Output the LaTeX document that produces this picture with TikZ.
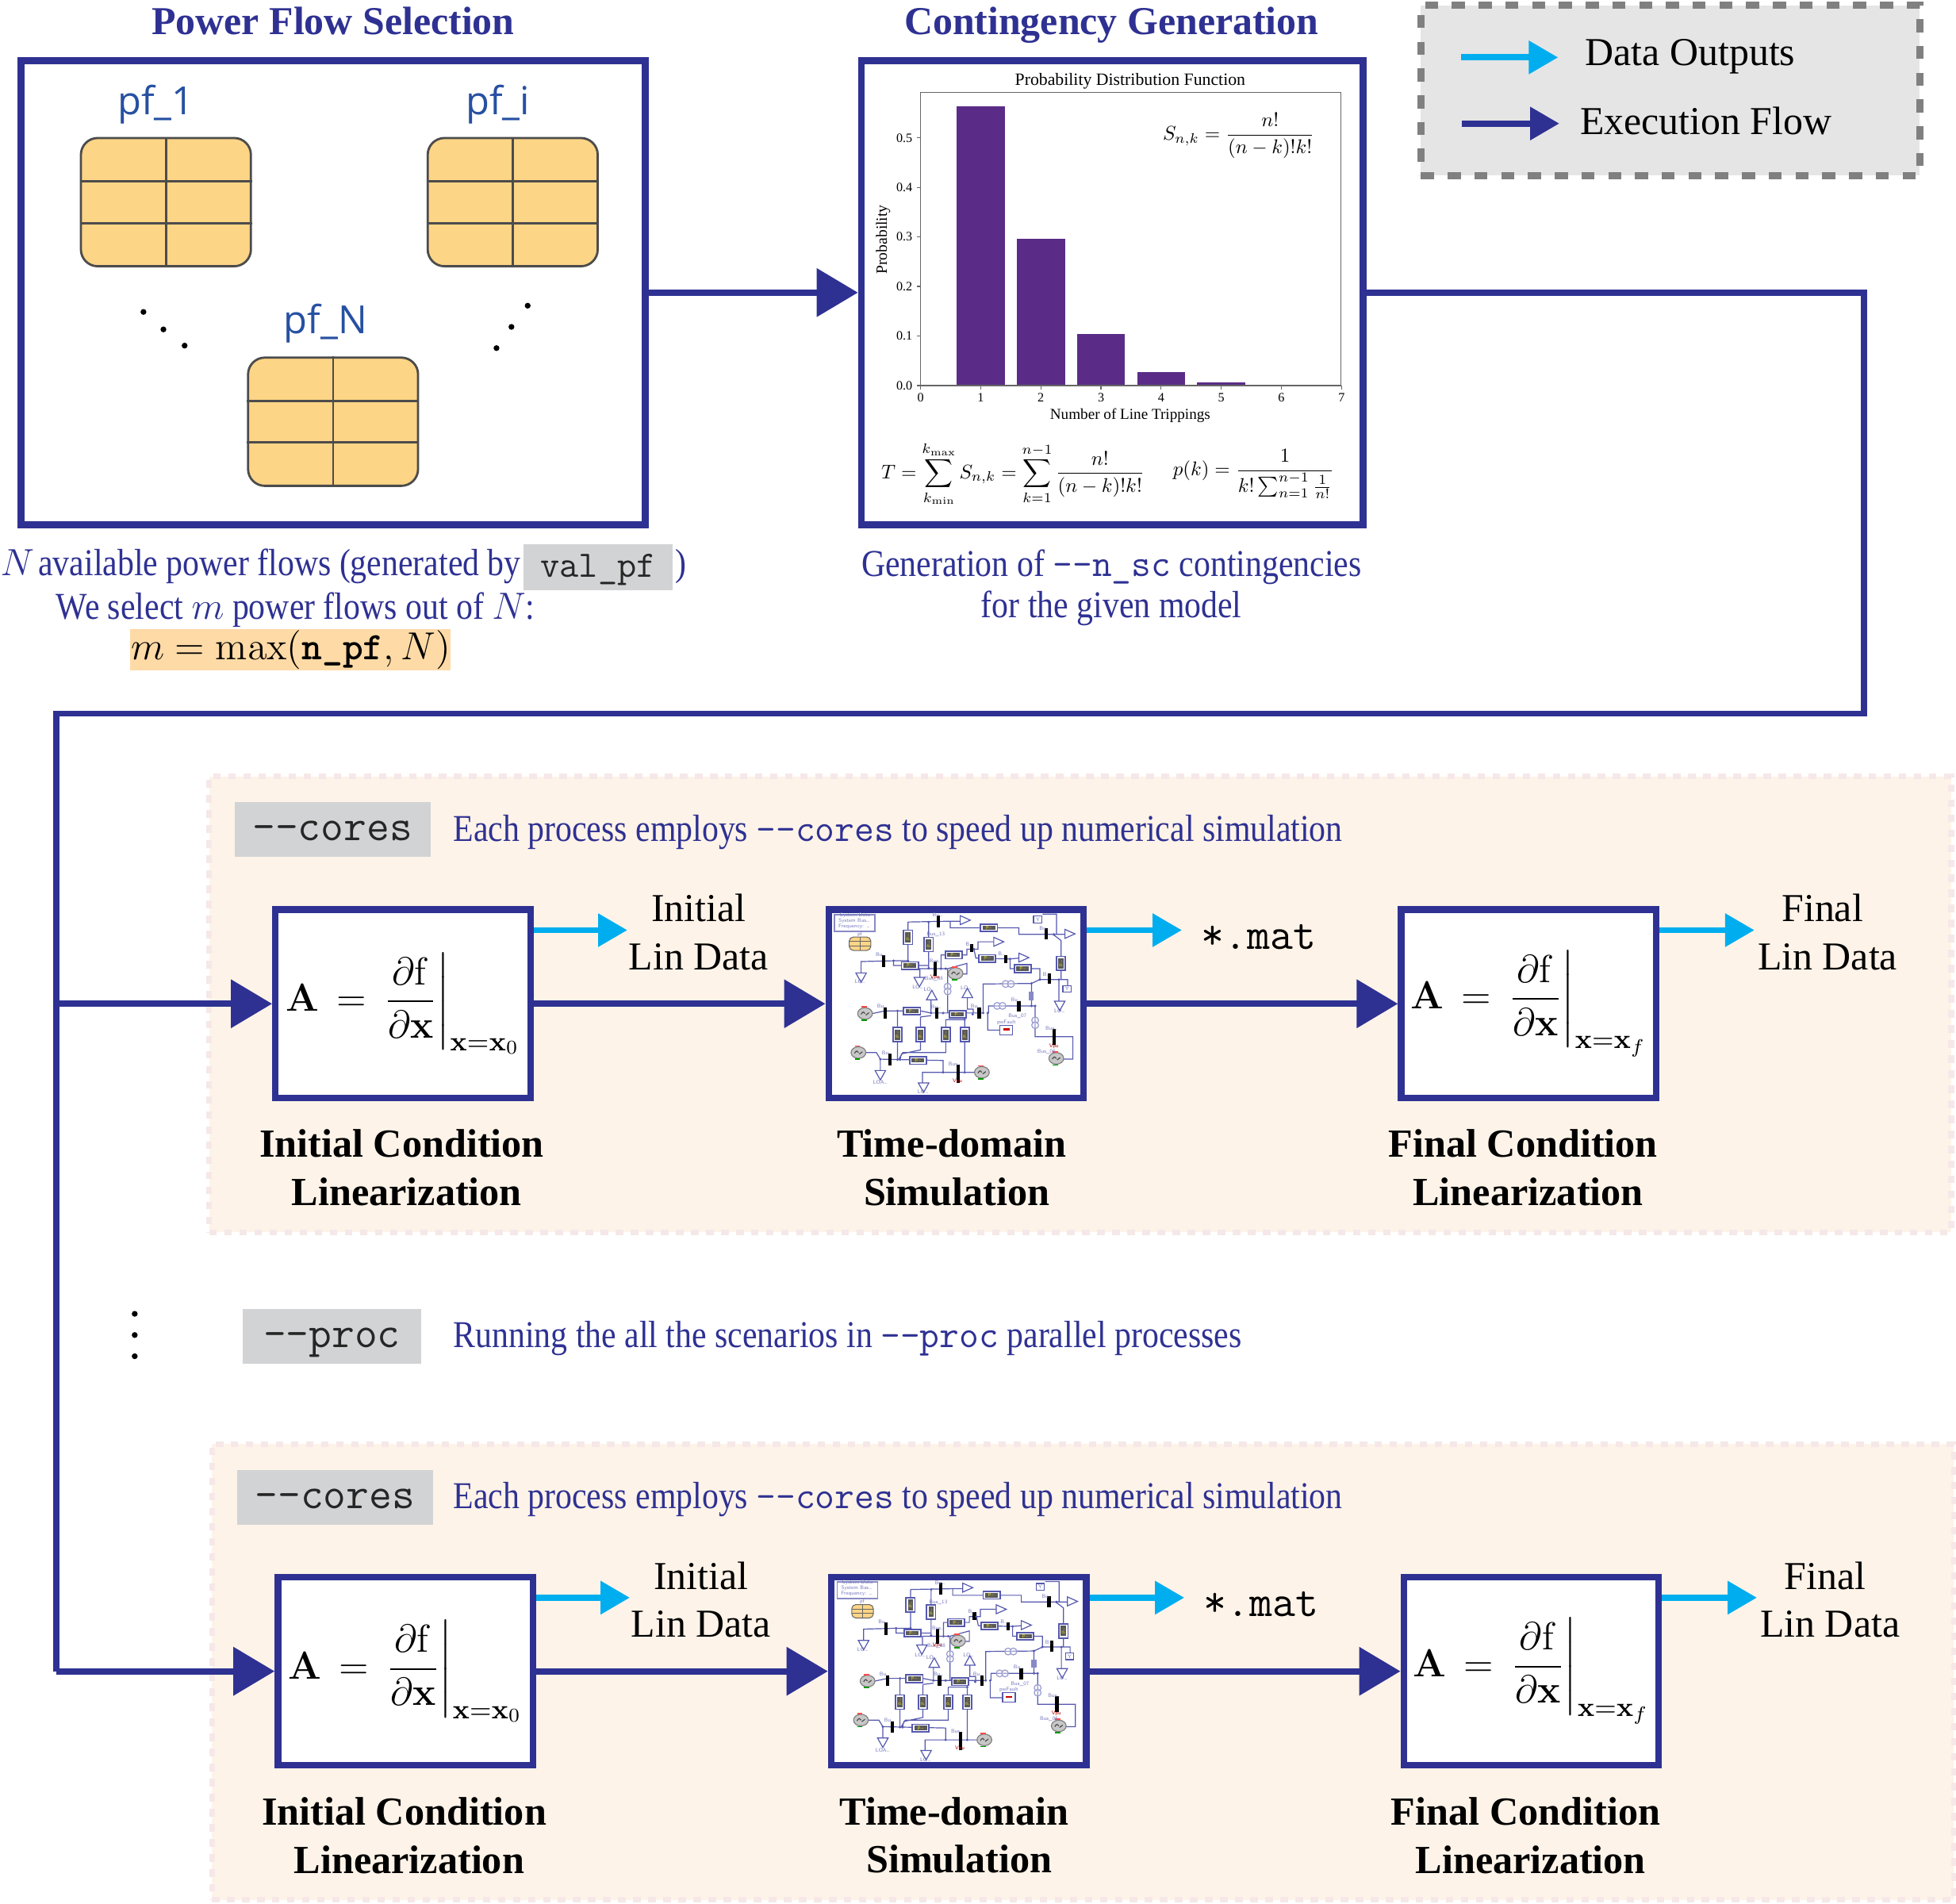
\documentclass[tikz,border=0pt]{standalone}
\usepackage{fix-cm}
\usepackage{amsmath}
\usepackage[no-math]{fontspec}
\usetikzlibrary{arrows.meta,calc,positioning}
\setmainfont{Liberation Serif}
\newfontfamily\squeezed[FakeStretch=.875]{Liberation Serif}
\newfontfamily\pffont{Open Sans}
\definecolor{flowblue}{HTML}{2E3192}
\definecolor{datacyan}{HTML}{00AEEF}
\definecolor{chipfill}{HTML}{FDD586}
\definecolor{bandfill}{HTML}{FEF3E8}
\definecolor{bandedge}{HTML}{F6E8E8}
\definecolor{codegray}{HTML}{D1D3D4}
\definecolor{barpurple}{HTML}{5B2C87}
\definecolor{wire}{HTML}{5558AE}
\newcommand{\fs}[1]{\fontsize{#1}{#1}\selectfont}
\newcommand{\ttsz}[1]{\fontsize{#1}{#1}\selectfont\ttfamily}
\newcommand{\tth}[2]{{\ttsz{#1}#2}}
\tikzset{
	flowbox/.style={draw=flowblue,line width=2.4pt,fill=white,inner sep=0pt},
	execflow/.style={draw=flowblue,line width=2.2pt,-{Triangle[length=14.8pt,width=17pt]}},
	dataflow/.style={draw=datacyan,line width=2.2pt,-{Triangle[length=10.5pt,width=11.5pt]}},
	band/.style={draw=bandedge,fill=bandfill,line width=2pt,dash pattern=on 2.7pt off 2.7pt},
	codechip/.style={fill=codegray,inner sep=0pt,text=black!85,text height=8pt,text depth=0pt},
	chip/.style={draw=black!70,line width=.8pt,fill=chipfill,rounded corners=6pt,minimum width=61pt,minimum height=46pt},
	titlelabel/.style={text=flowblue,font=\fs{14.2}\bfseries,text height=12pt,text depth=2.5pt},
	boldlabel/.style={align=center,font=\fs{14.3}\bfseries},
	plainlabel/.style={align=center,font=\fs{14.2}},
	bluelabel/.style={text=flowblue,font=\squeezed\fs{13.6}},
	dot/.style={circle,fill=black,inner sep=0pt,minimum width=2.1pt},
	plotlabel/.style={font=\fs{4.6},inner sep=0pt},
	ploteq/.style={font=\fs{10},inner sep=0pt,scale=.71},
	cirlabel/.style={font=\sffamily\fs{1.9},text=wire!80,inner sep=0pt}
}
\newcommand{\circuitsketch}[1]{%
	\begin{scope}[shift={(#1.center)},x=.003333cm,y=-.003333cm,shift={(-557.5,-435)},line width=.34pt]
		% wires of the network
		\draw[wire] (375,125)--(535,122)--(575,122) (535,122)--(535,147)--(650,147) (715,147)--(795,147)--(795,172)--(970,172)
			(375,125)--(375,277) (453,125)--(453,300) (197,318)--(197,275)--(320,272)--(320,290)--(453,290)
			(320,272)--(375,272) (420,335)--(420,302)--(525,302)--(525,470) (500,300)--(500,250)--(598,250)--(598,228)--(640,228)--(640,200)--(700,200)
			(625,228)--(632,262)--(760,265)--(795,262) (762,265)--(762,302)--(875,302)--(875,343)--(980,343)--(980,365)
			(660,470)--(660,360)--(843,358)--(875,343) (843,358)--(843,443) (680,470)--(680,443)--(857,443)--(857,560)--(1000,560)--(1000,645)--(965,645)
			(677,470)--(677,535)--(725,535) (955,343)--(955,195)--(925,172) (938,172)--(938,95)--(885,95) (947,343)--(947,425)
			(525,302)--(598,282)--(598,322)--(570,322) (240,472)--(288,462)--(422,462)--(462,470)--(660,470)
			(462,470)--(462,420) (600,412)--(600,455)--(622,455)--(622,470) (335,462)--(335,645)
			(422,485)--(462,480) (422,485)--(422,610)--(350,625)--(345,645) (518,495)--(590,495) (518,495)--(518,620)--(355,620)--(340,645)
			(590,475)--(590,695) (215,620)--(255,620)--(270,645)--(508,650)--(508,695) (270,645)--(270,688)
			(430,735)--(430,695)--(625,695);
		% bus bars
		\foreach \x/\ya/\yb in {490/100/145,900/150/192,617/210/240,745/250/280,910/320/360,283/250/297,478/275/330,288/450/490,485/450/490,645/450/490,795/425/465,307/625/668,565/665/735,930/530/590}
			\draw[black,line width=1.2pt] (\x,\ya) -- (\x,\yb);
		\foreach \x/\y in {453/125,375/272,320/272,453/300,500/302,518/302,625/228,762/265,875/343,947/343,843/358,843/443,928/172,660/470,677/470,620/475,590/495,462/470,508/470,335/462,270/645,335/647,345/647,508/695,590/695,857/443}
			\fill[wire] (\x,\y) circle (5);
		% line blocks
		\foreach \x/\y in {375/183,453/210,955/282,335/552,422/552,518/552,590/552}{
			\draw[wire,fill=white,line width=.5pt] (\x-17,\y-27) rectangle (\x+17,\y+27);
			\fill[black!65] (\x-10,\y-20) rectangle (\x+10,\y+20);
			\node[font=\sffamily\fs{1.9},text=yellow!85!black,inner sep=0pt,rotate=90] (vb#1\x\y) at (\x,\y) {p\ldots};
		}
		\foreach \x/\y in {682/147,548/250,675/263,810/302,382/290,390/463,563/475,413/650}{
			\draw[wire,fill=white,line width=.5pt] (\x-32,\y-14) rectangle (\x+32,\y+14);
			\fill[black!65] (\x-24,\y-8) rectangle (\x+24,\y+8);
			\node[font=\sffamily\fs{1.9},text=yellow!85!black,inner sep=0pt] (hb#1\x\y) at (\x,\y) {p\ldots};
		}
		\fill[wire!70] (833,390) rectangle (852,422);
		% loads
		\foreach \x/\y in {197/318,418/335,270/688,434/735,950/425}
			\draw[wire,fill=white] (\x-20,\y) -- (\x+20,\y) -- (\x,\y+36) -- cycle;
		\foreach \x/\y in {465/420,600/412}
			\draw[wire,fill=white] (\x-20,\y) -- (\x+20,\y) -- (\x,\y-36) -- cycle;
		\foreach \x/\y in {573/118,700/200,795/260,970/170}
			\draw[wire,fill=white] (\x,\y-17) -- (\x+38,\y) -- (\x,\y+17) -- cycle;
		% machines
		\foreach \x/\y in {212/472,187/620,555/320,655/695,937/642}{
			\draw[black!50,fill=black!22] (\x,\y) ellipse (28 and 22);
			\draw[black!70] (\x-15,\y+3) .. controls (\x-8,\y-10) and (\x-4,\y-6) .. (\x,\y) (\x+3,\y+6) -- (\x+15,\y-3);
			\draw[red!70,line width=.5pt] (\x-14,\y-25) -- (\x+6,\y-25);
			\draw[green!60!black,line width=.5pt] (\x-14,\y+25) -- (\x+6,\y+25);
		}
		% transformers
		\foreach \x/\y in {745/360,765/360,713/443,733/443}
			\draw[wire!60,fill=white,fill opacity=.4] (\x,\y) circle (13);
		\foreach \x/\y in {525/370,525/388,857/498,857/516}
			\draw[wire!60,fill=white,fill opacity=.4] (\x,\y) circle (13);
		% small boxes
		\draw[wire!70,line width=.5pt,fill=white] (97,97) rectangle (250,160);
		\draw[black!60,line width=.3pt,fill=chipfill,rounded corners=1.5pt] (152,182) rectangle (234,233);
		\draw[black!60,line width=.2pt] (193,182) -- (193,233) (152,199) -- (234,199) (152,216) -- (234,216);
		\draw[wire,fill=white] (724,516) rectangle (772,553);
		\fill[red!80!black] (735,528) rectangle (760,536);
		\draw[wire,fill=white] (851,102) rectangle (883,128);
		\draw[wire,fill=white] (962,366) rectangle (994,391);
		\foreach \x/\y/\t [count=\n] in {174/100/System Data,171/121/System Bas\ldots,171/141/Frequency: \ldots,192/172/pf,
			487/99/Bu\ldots,480/173/Bus\_13,892/150/Bu\ldots,607/208/B\ldots,730/246/B\ldots,900/325/B\ldots,272/247/Bu\ldots,
			480/271/Bus\ldots,473/340/Bus\_08,277/445/Bu\ldots,482/447/Bu\ldots,632/445/Bu\ldots,785/419/Bu\ldots,790/482/Bus\_07,
			748/506/pwFault,295/620/Bu\ldots,552/663/Bus\ldots,920/527/Bus\ldots,900/617/Bus\_06,
			194/351/LO\ldots,412/372/LO\ldots,270/733/LOA\ldots,432/770/LO\ldots,950/461/LO\ldots,455/381/LO\ldots,595/374/LO\ldots,867/115/Y,978/378/Y}
			\node[cirlabel] (lab#1\n) at (\x,\y) {\t};
		\foreach \x/\y [count=\n] in {477/335,562/728,928/595}
			\node[cirlabel,text=red!70!black] (vpu#1\n) at (\x,\y) {Vpu};
	\end{scope}
}
\begin{document}
\begin{tikzpicture}[x=.015727cm,y=-.015727cm]
	\useasboundingbox (0,0) rectangle (1568,1526);

	% power flow selection
	\node[flowbox,minimum width=224pt,minimum height=166.5pt] at (267,234.5) (flowsel) {};
	\node[titlelabel] at (267,17) (flowtitle) {Power Flow Selection};
	\foreach \n/\x/\y/\lx/\lab in {a/133/162/125/pf\_1,b/411/162/399/pf\_i,c/267/338/261/pf\_N}{
		\node[chip] at (\x,\y) (chip\n) {};
		\draw[black!70,line width=.8pt] (chip\n.north) -- (chip\n.south);
		\draw[black!70,line width=.8pt] ($(chip\n.north west)!.34!(chip\n.south west)$) -- ($(chip\n.north east)!.34!(chip\n.south east)$);
		\draw[black!70,line width=.8pt] ($(chip\n.north west)!.66!(chip\n.south west)$) -- ($(chip\n.north east)!.66!(chip\n.south east)$);
		\node[text=flowblue!85!cyan,font=\pffont\fs{13.9}] at (\lx,\y-78.5) (pf\n) {\lab};
	}
	\foreach \n/\x/\y in {1/115/250,2/131/264,3/148/277,4/398/279,5/410/262,6/423/245}
		\node[dot] at (\x,\y) (dot\n) {};

	% text under the first panel
	\node[bluelabel,anchor=west,inner sep=0pt] at (0,454) (availtxt) {$N$\hspace{-1.5pt} available power flows (generated by};
	\node[codechip,minimum width=53.5pt,minimum height=16.5pt,font=\ttsz{13.4},text depth=1pt] at (479.5,454.5) (valpf) {val\_pf};
	\node[bluelabel] at (546,454) (closepar) {)};
	\node[bluelabel] at (237,489) (selecttxt) {We select $m$ power flows out of $N$:};
	\node[fill=orange!30!chipfill!55!white,minimum width=115pt,minimum height=14.8pt,inner sep=0pt,font=\fs{14}] at (233,521) (maxeq) {$m=\max(\text{\ttfamily\bfseries n\_pf},N)$};

	% contingency generation
	\node[flowbox,minimum width=180pt,minimum height=166.5pt] at (891.5,234.5) (contgen) {};
	\node[titlelabel] at (891,17) (conttitle) {Contingency Generation};
	\node[bluelabel,align=center] at (891,471) (conttxt) {Generation of \tth{13.7}{-{}-n\_sc} contingencies\\[1pt]for the given model};
	\node[font=\fs{6.2}] at (906,65) (plottitle) {Probability Distribution Function};
	\foreach \k/\v in {1/.563,2/.297,3/.104,4/.027,5/.006,6/.001}
		\fill[barpurple] ({738+48.2*(\k-.4)},309) rectangle ({738+48.2*(\k+.4)},{309-397*\v});
	\draw[black!60,line width=.45pt] (738,74) rectangle (1075,309);
	\foreach \k in {0,...,7}{
		\draw[black!60,line width=.35pt] ({738+48.2*\k},309) -- ({738+48.2*\k},312);
		\node[plotlabel] at ({738+48.2*\k},318.5) (xtick\k) {\k};
	}
	\foreach \k in {0,...,5}{
		\draw[black!60,line width=.35pt] (738,{309-39.7*\k}) -- (735,{309-39.7*\k});
		\node[plotlabel] at (725,{309-39.7*\k}) (ytick\k) {0.\k};
	}
	\node[font=\fs{5.45},inner sep=0pt] at (906,333) (xlabel) {Number of Line Trippings};
	\node[font=\fs{5.6},inner sep=0pt,rotate=90] at (708,192) (ylabel) {Probability};
	\node[ploteq] at (993,109) (snk) {$\displaystyle S_{n,k}=\frac{n!}{(n-k)!k!}$};
	\node[ploteq] at (812,380) (teq) {$\displaystyle T=\sum_{k_{\min}}^{k_{\max}}S_{n,k}=\sum_{k=1}^{n-1}\frac{n!}{(n-k)!k!}$};
	\node[ploteq] at (1005,380) (peq) {$\displaystyle p(k)=\frac{1}{k!\sum_{n=1}^{n-1}\frac{1}{n!}}$};

	% legend
	\node[draw=black!50,fill=black!10,line width=2.5pt,dash pattern=on 4.7pt off 4.9pt,minimum width=179pt,minimum height=61pt,inner sep=0pt] at (1339,72.5) (legend) {};
	\coordinate (dataa) at (1171,46);
	\coordinate (datab) at (1249,46);
	\coordinate (execa) at (1172,99);
	\coordinate (execb) at (1250,99);
	\draw[dataflow] (dataa) -- (datab);
	\draw[execflow,-{Triangle[length=10.5pt,width=11.5pt]}] (execa) -- (execb);
	\node[plainlabel] at (1355,45.5) (datatxt) {Data Outputs};
	\node[plainlabel] at (1367.5,97) (exectxt) {Execution Flow};

	% processes
	\foreach \s/\dx/\dy in {1/0/0,2/2/535}{
	\begin{scope}[shift={(\dx,\dy)}]
		\node[band,minimum width=625pt,minimum height=163.5pt,inner sep=0pt] at (866,805) (band\s) {};
		\node[codechip,minimum width=70.3pt,minimum height=19.7pt,font=\ttsz{15.9}] at (266.5,665) (cores\s) {-{}-cores};
		\node[bluelabel,anchor=west,inner sep=0pt] at (363-\dx,667) (corestxt\s) {Each process employs \tth{13.7}{-{}-cores} to speed up numerical simulation};
		\node[flowbox,minimum width=91.5pt,minimum height=67.5pt,font=\fs{14}] at (323,804.5) (ia\s) {$\mathbf{A}\,=\mkern2mu\left.\dfrac{\partial\mathrm{f}}{\partial\mathbf{x}}\right|_{\mathbf{x}=\mathbf{x}_0}$};
		\node[flowbox,minimum width=91.5pt,minimum height=67.5pt] at (766.5,804.5) (sim\s) {};
		\node[flowbox,minimum width=91.5pt,minimum height=67.5pt,font=\fs{14}] at (1225.5,804.5) (fa\s) {$\mathbf{A}\,=\mkern2mu\left.\dfrac{\partial\mathrm{f}}{\partial\mathbf{x}}\right|_{\mathbf{x}=\mathbf{x}_f}$};
		\circuitsketch{sim\s}
		\draw[execflow] (ia\s) -- (sim\s);
		\draw[execflow] (sim\s) -- (fa\s);
		\draw[dataflow] ($(ia\s.east)+(0,-59)$) -- ++(75,0);
		\draw[dataflow] ($(sim\s.east)+(0,-59)$) -- ++(76,0);
		\draw[dataflow] ($(fa\s.east)+(0,-59)$) -- ++(76,0);
		\node[plainlabel] at (560,747) (inidata\s) {Initial\\[3pt]Lin Data};
		\node[font=\ttsz{16}] at (1009,751) (matfile\s) {*.mat};
		\node[plainlabel] at (1465,747) (findata\s) {Final\hspace*{3.6pt}\\[3pt]Lin Data};
		\node[boldlabel] at (322,936) (iatxt\s) {Initial Condition\\[3pt]\hspace*{3.6pt}Linearization};
		\node[boldlabel] at (763,936) (simtxt\s) {Time-domain\\[3pt]\hspace*{3.6pt}Simulation};
		\node[boldlabel] at (1221,936) (fatxt\s) {Final Condition\\[3pt]\hspace*{3.6pt}Linearization};
	\end{scope}
	}

	% between the two processes
	\foreach \n/\y in {1/1053,2/1070,3/1087}
		\node[dot] at (108,\y) (vdot\n) {};
	\node[codechip,minimum width=64pt,minimum height=19.7pt,font=\ttsz{15.9}] at (266,1071) (procchip) {-{}-proc};
	\node[bluelabel,anchor=west,inner sep=0pt] at (363,1073) (proctxt) {Running the all the scenarios in \tth{13.7}{-{}-proc} parallel processes};

	% execution flow
	\coordinate (turnr) at (1494,234.5);
	\coordinate (turnb) at (1494,572);
	\coordinate (turnl) at (45,572);
	\coordinate (rail1) at (45,804.5);
	\coordinate (rail2) at (45,1339.5);
	\draw[execflow] (flowsel) -- (contgen);
	\draw[draw=flowblue,line width=2.2pt] (contgen.east) -- (turnr) -- (turnb) -- (turnl) -- (rail2);
	\draw[execflow] (rail1) -- (ia1);
	\draw[execflow] (rail2) -- (ia2);
\end{tikzpicture}
\end{document}
